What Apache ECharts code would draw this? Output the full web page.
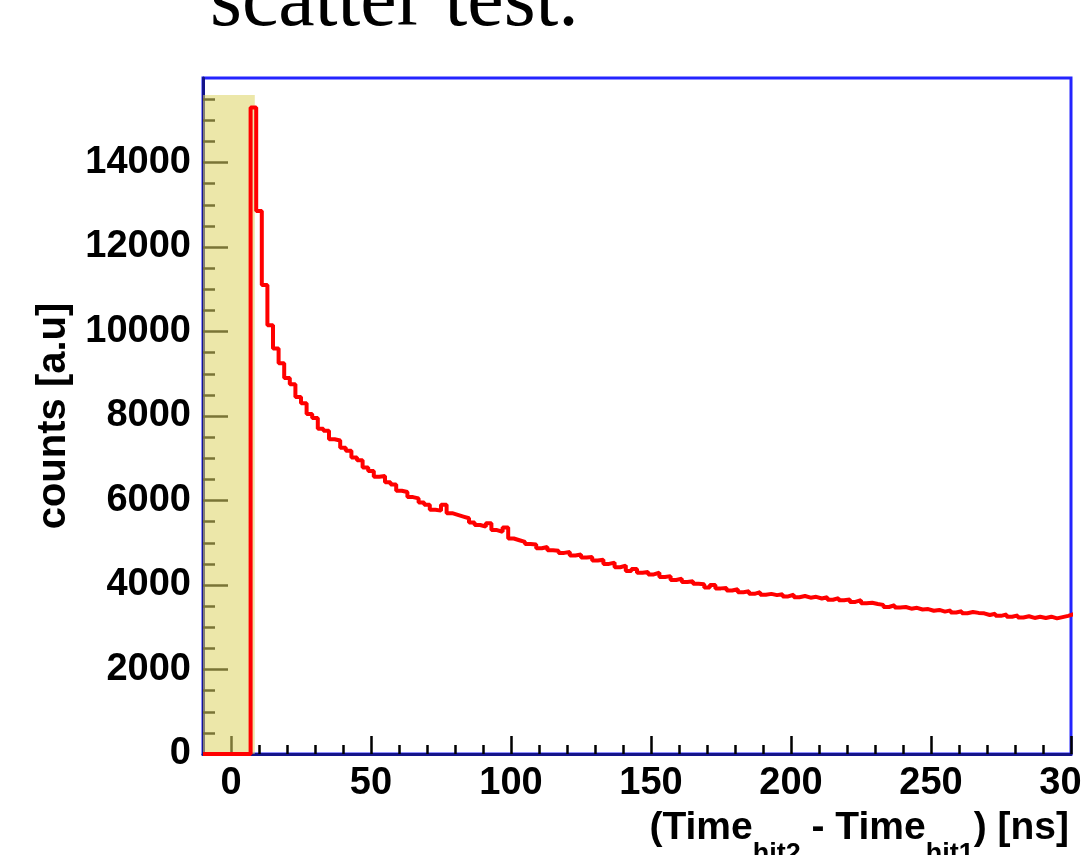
<!DOCTYPE html>
<html>
<head>
<meta charset="utf-8">
<script src="https://cdn.jsdelivr.net/npm/echarts@6/dist/echarts.min.js"></script>
<style>
html,body{margin:0;padding:0;background:#fff;}
#c{width:1082px;height:855px;}
</style>
</head>
<body>
<div id="c"></div>
<script>
// ---- data ----
const xMin = -10, xMax = 300;
const yMin = 0, yMax = 16000;
const xMajorTicks = [0, 50, 100, 150, 200, 250, 300];
const xMinorStep = 10;
const yMajorTicks = [0, 2000, 4000, 6000, 8000, 10000, 12000, 14000];
const yMinorStep = 500;
const yMinorTop = 15500;
const vetoStart = -10, vetoEnd = 8.5, vetoTop = 15600;   // shaded (yellow) window
const emptyFrom = -10;          // histogram empty from here up to first filled bin
const binStart = 7, binWidth = 2;
const counts = [
  15300, 12850, 11100, 10150, 9600, 9250, 8900, 8750, 8450, 8300,
  8050, 7950, 7700, 7650, 7450, 7420, 7250, 7180, 7020, 6950,
  6780, 6700, 6560, 6580, 6430, 6380, 6230, 6200, 6080, 6050,
  5950, 5900, 5780, 5760, 5900, 5700, 5660, 5620, 5580, 5480,
  5420, 5380, 5460, 5300, 5260, 5360, 5100, 5060, 5020, 4970,
  4960, 4870, 4900, 4820, 4810, 4760, 4780, 4700, 4720, 4650,
  4660, 4580, 4600, 4500, 4530, 4420, 4460, 4330, 4380, 4290,
  4310, 4250, 4290, 4190, 4210, 4120, 4150, 4070, 4090, 4030,
  4020, 3940, 4000, 3920, 3930, 3870, 3900, 3830, 3850, 3790,
  3830, 3770, 3790, 3760, 3780, 3730, 3770, 3710, 3740, 3700,
  3720, 3680, 3710, 3650, 3690, 3640, 3660, 3600, 3640, 3570,
  3580, 3550, 3530, 3480, 3520, 3470, 3480, 3440, 3460, 3420,
  3430, 3390, 3410, 3370, 3400, 3350, 3380, 3330, 3360, 3340,
  3330, 3290, 3320, 3270, 3300, 3250, 3280, 3230, 3260, 3220,
  3250, 3220, 3250, 3210, 3240, 3270, 3310
];
const titleText = 'scatter test.';
const yTitle = 'counts [a.u]';

// ---- derived ----
const xMinorTicks = [];
for (let v = xMin + xMinorStep; v < xMax; v += xMinorStep) if (xMajorTicks.indexOf(v) < 0 && v > 0) xMinorTicks.push(v);
const yMinorTicks = [];
for (let v = yMinorStep; v <= yMinorTop; v += yMinorStep) if (yMajorTicks.indexOf(v) < 0) yMinorTicks.push(v);

const histData = [[emptyFrom, 0]];
counts.forEach((c, i) => histData.push([binStart + i * binWidth, c]));
histData.push([binStart + counts.length * binWidth, counts[counts.length - 1]]);

const FONT = '"Liberation Sans", Arial, Helvetica, sans-serif';
const NAVY = '#14148a';
const BLUE = '#2424ff';
const plain = v => String(v);

const chart = echarts.init(document.getElementById('c'), null, {renderer: 'canvas'});
chart.setOption({
  animation: false,
  backgroundColor: '#ffffff',
  grid: {
    left: 203, right: 11, top: 78, bottom: 101,
    containLabel: false, outerBoundsMode: 'none',
    show: true, borderColor: BLUE, borderWidth: 3, backgroundColor: 'transparent'
  },
  title: [{
    text: '(Time{s|hit2} - Time{s|hit1}) [ns]',
    right: 8, top: 784,
    textStyle: {
      fontFamily: FONT, fontWeight: 'bold', fontSize: 39, color: '#000',
      rich: { s: { fontFamily: FONT, fontWeight: 'bold', fontSize: 27, color: '#000', padding: [52, 0, 0, 0] } }
    }
  }],
  graphic: [{
    type: 'text', left: 210, top: -38,
    style: { text: titleText, font: '82px "Liberation Serif", "Times New Roman", serif', fill: '#000' }
  }],
  xAxis: [{
    type: 'value', min: xMin, max: xMax, position: 'bottom',
    axisLine: { show: true, onZero: false, lineStyle: { color: NAVY, width: 3 } },
    axisTick: { show: true, inside: true, length: 18, customValues: xMajorTicks, lineStyle: { color: '#000', width: 2.5 } },
    axisLabel: { show: true, customValues: xMajorTicks, formatter: plain, fontFamily: FONT, fontWeight: 'bold', fontSize: 38, color: '#000', margin: 11 },
    splitLine: { show: false }
  }, {
    type: 'value', min: xMin, max: xMax, position: 'bottom', offset: 0,
    axisLine: { show: false, onZero: false },
    axisTick: { show: true, inside: true, length: 9, customValues: xMinorTicks, lineStyle: { color: '#000', width: 2.5 } },
    axisLabel: { show: false },
    splitLine: { show: false }
  }],
  yAxis: [{
    type: 'value', min: yMin, max: yMax, position: 'left',
    name: yTitle, nameLocation: 'middle', nameGap: 106,
    nameTextStyle: { fontFamily: FONT, fontWeight: 'bold', fontSize: 40, color: '#000' },
    axisLine: { show: true, onZero: false, lineStyle: { color: NAVY, width: 3 } },
    axisTick: { show: true, inside: true, length: 25, customValues: yMajorTicks, lineStyle: { color: '#000', width: 2.5 } },
    axisLabel: { show: true, customValues: yMajorTicks, formatter: plain, fontFamily: FONT, fontWeight: 'bold', fontSize: 38, color: '#000', margin: 12 },
    splitLine: { show: false }
  }, {
    type: 'value', min: yMin, max: yMax, position: 'left', offset: 0,
    axisLine: { show: false, onZero: false },
    axisTick: { show: true, inside: true, length: 12, customValues: yMinorTicks, lineStyle: { color: '#000', width: 2.5 } },
    axisLabel: { show: false },
    splitLine: { show: false }
  }],
  series: [{
    type: 'line', xAxisIndex: 0, yAxisIndex: 0,
    data: histData, step: 'end', showSymbol: false, symbol: 'none',
    lineStyle: { color: '#ff0000', width: 4 },
    clip: true, z: 3
  }, {
    type: 'line', xAxisIndex: 0, yAxisIndex: 0, data: [], z: 5,
    markArea: {
      silent: true,
      itemStyle: { color: 'rgba(220,211,99,0.55)' },
      data: [[{ coord: [vetoStart, yMin] }, { coord: [vetoEnd, vetoTop] }]]
    }
  }]
});
</script>
</body>
</html>
